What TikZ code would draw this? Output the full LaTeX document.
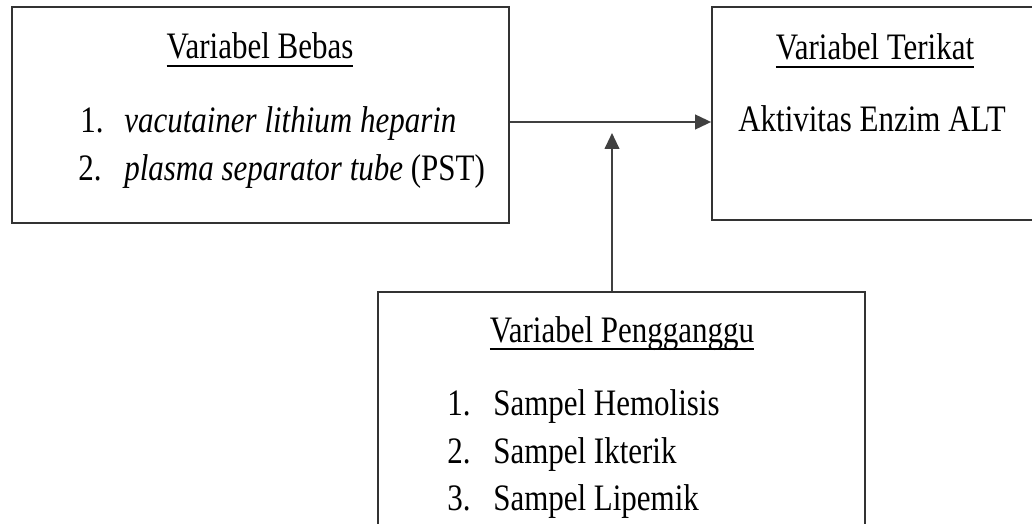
\documentclass[tikz,border=0pt]{standalone}
\usepackage{fontspec}
\setmainfont{Liberation Serif}[FakeStretch=0.83]
\usetikzlibrary{arrows.meta}
\newcommand{\garis}[1]{\setbox0\hbox{#1}\rlap{\rule[-5.8pt]{\wd0}{1.4pt}}\box0}

\begin{document}
\begin{tikzpicture}[x=0.75pt,y=-0.75pt,
	kotak/.style={draw=black!80,line width=1.3pt,inner sep=0pt},
	teks/.style={inner sep=0pt,anchor=base west,font=\fontsize{28}{34}\selectfont},
	judul/.style={teks,anchor=base},
	panah/.style={draw=black!75,line width=1.5pt,-{Triangle[length=12pt,width=11pt]}}]
	\useasboundingbox (0,0) rectangle (1032,524);
	\clip (0,0) rectangle (1032,524);
	\fill[white] (0,0) rectangle (1032,524);

	\node[kotak,minimum width=372.75pt,minimum height=162pt] (bebas) at (260.5,115) {};
	\node[kotak,minimum width=249.75pt,minimum height=159.75pt] (terikat) at (878.5,113.5) {};
	\node[kotak,minimum width=365.25pt,minimum height=189.75pt] (pengganggu) at (621.5,418.5) {};

	\node[judul] (jbebas) at (260,59) {\garis{Variabel Bebas}};
	\node[teks] (n1) at (80,133) {1.};
	\node[teks] (b1) at (124,133) {\textit{vacutainer lithium heparin}};
	\node[teks] (n2) at (78,181) {2.};
	\node[teks] (b2) at (124,181) {\textit{plasma separator tube} (PST)};

	\node[judul] (jterikat) at (875,60) {\garis{Variabel Terikat}};
	\node[teks] (t1) at (738,132) {Aktivitas Enzim ALT};

	\node[judul] (jpengganggu) at (622,342) {\garis{Variabel Pengganggu}};
	\node[teks] (m1) at (447,415) {1.};
	\node[teks] (p1) at (493,415) {Sampel Hemolisis};
	\node[teks] (m2) at (447,463) {2.};
	\node[teks] (p2) at (493,463) {Sampel Ikterik};
	\node[teks] (m3) at (447,510) {3.};
	\node[teks] (p3) at (493,510) {Sampel Lipemik};

	\coordinate (temu) at (612,133);
	\draw[panah] ([yshift=-5.25pt]bebas.east) -- ([yshift=-5.25pt]bebas.east -| terikat.west);
	\draw[panah] (pengganggu.north -| temu) -- (temu);
\end{tikzpicture}
\end{document}
